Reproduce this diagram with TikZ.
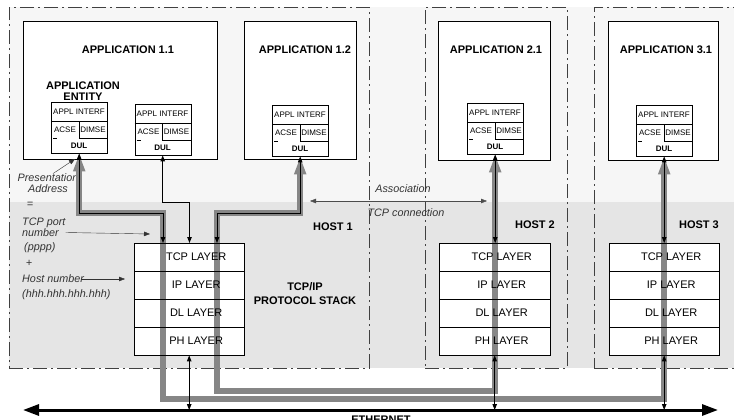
\documentclass[tikz,border=0pt]{standalone}
\usepackage{fontspec}
\setmainfont{Liberation Sans}
\usetikzlibrary{arrows.meta, calc}
\pgfdeclarelayer{bg}
\pgfdeclarelayer{pipes}
\pgfsetlayers{bg,pipes,main}
\definecolor{upperbg}{HTML}{F6F6F6}
\definecolor{lowerbg}{HTML}{E5E5E5}
\definecolor{pipegray}{HTML}{868686}

\begin{document}
\begin{tikzpicture}[
    x=1pt, y=-1pt, line width=0.85pt,
    hostbox/.style={draw=black!75, dash pattern=on 14pt off 4pt on 2pt off 4pt,
                    anchor=north west, minimum height=361pt, inner sep=0pt},
    appbox/.style={draw, fill=white, anchor=north west, inner sep=0pt},
    entity/.style={draw, fill=white, anchor=north west, minimum width=56pt,
                   minimum height=51pt, inner sep=0pt},
    layerbox/.style={draw, anchor=north west, minimum height=28pt, inner sep=0pt},
    headtext/.style={font=\fontsize{11}{11}\selectfont\bfseries, inner sep=0pt},
    tinytext/.style={font=\fontsize{8}{8}\selectfont, inner sep=0pt},
    laytext/.style={font=\fontsize{11}{11}\selectfont, inner sep=0pt},
    notetext/.style={font=\fontsize{10.8}{10.5}\selectfont\itshape, text=black!80, inner sep=0pt},
    pipeline/.style={draw=pipegray, line width=5.5pt,
                     {Triangle[length=18pt,width=11pt]}-{Triangle[length=18pt,width=11pt]}},
    ether/.style={line width=3pt,
                  {Triangle[length=16pt,width=11pt]}-{Triangle[length=16pt,width=11pt]}},
    link/.style={<->, line width=1pt},
    >={Triangle[length=6pt,width=4.5pt]}
]
\useasboundingbox (0,0) rectangle (734,420);

% background and host frames
\begin{pgfonlayer}{bg}
  \fill[upperbg] (9,7) rectangle (734,202);
  \fill[lowerbg] (9,202) rectangle (734,368);
  \node[hostbox, minimum width=360pt] (host1) at (9,7) {};
  \node[hostbox, minimum width=142pt] (host2) at (425,7) {};
  \node[hostbox, minimum width=160pt] (host3) at (594,7) {};
  \node[notetext, align=center] (addr) at (48,183) {Presentation\\Address};
\end{pgfonlayer}

% applications
\node[appbox, minimum width=194pt, minimum height=138pt] (app11) at (23,21) {};
\node[appbox, minimum width=112pt, minimum height=138pt] (app12) at (244,21) {};
\node[appbox, minimum width=112pt, minimum height=139pt] (app21) at (438,21) {};
\node[appbox, minimum width=110pt, minimum height=139pt] (app31) at (608,21) {};
\node[headtext] (t11) at (128,50) {APPLICATION 1.1};
\node[headtext] (t12) at (305,50) {APPLICATION 1.2};
\node[headtext] (t21) at (496,50) {APPLICATION 2.1};
\node[headtext] (t31) at (666,50) {APPLICATION 3.1};
\node[headtext, align=center] (ae) at (83,91) {APPLICATION\\ENTITY};

% application entities
\foreach \n/\x/\y in {e11/51/102, e12/134.5/104, e2/272/105, e3/467/103, e4/636/105}{
  \node[entity] (\n) at (\x,\y) {};
  \node[tinytext] (\n-ai) at (\x+28,\y+9.5) {APPL INTERF};
  \node[tinytext] (\n-acse) at (\x+14,\y+27.5) {ACSE};
  \node[tinytext] (\n-dimse) at (\x+42,\y+27.5) {DIMSE};
  \node[tinytext, font=\fontsize{8}{8}\selectfont\bfseries] (\n-dul) at (\x+28,\y+43.5) {DUL};
  \draw (\x,\y+19) -- (\x+56,\y+19);
  \draw (\x+28,\y+19) -- (\x+28,\y+36) -- (\x+56,\y+36);
  \draw (\x+2,\y+36) -- (\x+6,\y+36);
}

% protocol stacks
\foreach \hs/\x/\w in {h1/134/110pt, h2/439/111pt, h3/609/110pt}{
  \foreach \ly/\nm [count=\i from 0] in {tcp/TCP, ip/IP, dl/DL, ph/PH}
    \node[layerbox, minimum width=\w, label={[laytext, xshift=7pt]center:\nm\ LAYER}]
      (\hs-\ly) at (\x,243+28*\i) {};
}
\begin{pgfonlayer}{bg}
  \foreach \hs in {h1,h2,h3}
    \fill[white] (\hs-tcp.north west) rectangle (\hs-ph.south east);
\end{pgfonlayer}

\node[headtext] (hl1) at (333,227) {HOST 1};
\node[headtext] (hl2) at (535,225) {HOST 2};
\node[headtext] (hl3) at (699,225) {HOST 3};
\node[headtext, align=center, font=\fontsize{11}{14}\selectfont\bfseries] (stack) at (305,294) {TCP/IP\\PROTOCOL STACK};

% ethernet
\coordinate (ethL) at (23,410);
\coordinate (ethR) at (718,410);
\draw[ether] (ethL) -- (ethR);
\node[headtext, anchor=north] (eth) at (381,416) {ETHERNET};

% associations
\begin{pgfonlayer}{pipes}
  \draw[pipeline] (e11.south) |- (163,213) -- (163,399) -| (e4.south);
  \draw[pipeline] (e2.south) |- (217,213) -- (217,391) -| (e3.south);
\end{pgfonlayer}
\draw[link] (e11.south) |- (163,213) -- (163,213 |- h1-tcp.north);
\draw[link] (e12.south) |- (189.5,202.5) -- (189.5,202.5 |- h1-tcp.north);
\draw[link] (e2.south) |- (217,213) -- (217,213 |- h1-tcp.north);
\draw[link] (e3.south) -- (e3.south |- h2-tcp.north);
\draw[link] (e4.south) -- (e4.south |- h3-tcp.north);
\foreach \hs in {h1,h2,h3}
  \draw[link] (\hs-ph.south) -- (\hs-ph.south |- ethL);

\coordinate (asL) at (310,201);
\coordinate (asR) at (487,201);
\draw[<->, black!70] (asL) -- (asR);
\node[notetext] (assoc) at (403,189) {Association};
\node[notetext] (tcpconn) at (406,213) {TCP connection};

% addressing notes
\node[notetext] (eq) at (30,205) {=};
\node[notetext, align=left, anchor=west] (port) at (22,227.5) {TCP port\\number};
\node[notetext, anchor=west] (pppp) at (24,248) {(pppp)};
\node[notetext] (plus) at (29,263) {+};
\node[notetext, anchor=west] (hostno) at (22,279) {Host number};
\node[notetext, anchor=west] (hhh) at (22,295) {(hhh.hhh.hhh.hhh)};
\coordinate (addrin) at (75,159);
\coordinate (portin) at (150,234);
\coordinate (ipin) at (125,279);
\draw[->, black!80] ([xshift=5pt]addr.north) -- (addrin);
\draw[->, black!80] ([yshift=-5pt]port.east) -- (portin);
\draw[->, black!80] ([xshift=-3pt]hostno.east) -- (ipin);
\end{tikzpicture}
\end{document}
